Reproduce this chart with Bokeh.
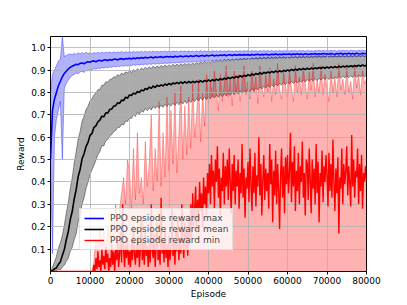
from bokeh.plotting import figure
from bokeh.models import Range1d, FixedTicker, PrintfTickFormatter, Legend
from bokeh.embed import file_html
from bokeh.resources import INLINE

# Episode sampling grids
EP = list(range(0, 80001, 500))        # bands, max and mean lines
MIN_EP = list(range(0, 80001, 250))    # min line (denser)

X_TICKS = [0, 10000, 20000, 30000, 40000, 50000, 60000, 70000, 80000]
Y_TICKS = [0.1, 0.2, 0.3, 0.4, 0.5, 0.6, 0.7, 0.8, 0.9, 1.0]

LABELS = ["PPO epsiode reward max", "PPO epsiode reward mean", "PPO epsiode reward min"]

MAX_LINE = [
    0.50, 0.72, 0.77, 0.80, 0.83, 0.85, 0.87, 0.885, 0.895, 0.905,
    0.912, 0.918, 0.921, 0.926, 0.924, 0.930, 0.932, 0.928, 0.934, 0.937,
    0.935, 0.939, 0.941, 0.937, 0.942, 0.944, 0.940, 0.945, 0.946, 0.942,
    0.947, 0.944, 0.948, 0.949, 0.945, 0.950, 0.951, 0.947, 0.952, 0.950,
    0.953, 0.949, 0.954, 0.951, 0.955, 0.952, 0.956, 0.953, 0.957, 0.954,
    0.956, 0.958, 0.954, 0.959, 0.956, 0.958, 0.960, 0.956, 0.959, 0.961,
    0.958, 0.961, 0.957, 0.962, 0.959, 0.961, 0.963, 0.959, 0.962, 0.963,
    0.960, 0.964, 0.961, 0.963, 0.965, 0.961, 0.964, 0.965, 0.962, 0.966,
    0.963, 0.965, 0.967, 0.963, 0.966, 0.964, 0.967, 0.965, 0.968, 0.964,
    0.967, 0.968, 0.965, 0.969, 0.966, 0.968, 0.969, 0.966, 0.969, 0.967,
    0.969, 0.966, 0.970, 0.967, 0.969, 0.971, 0.967, 0.970, 0.968, 0.971,
    0.969, 0.968, 0.971, 0.969, 0.972, 0.968, 0.971, 0.969, 0.972, 0.970,
    0.971, 0.972, 0.969, 0.972, 0.970, 0.973, 0.970, 0.972, 0.969, 0.973,
    0.971, 0.970, 0.973, 0.971, 0.974, 0.970, 0.973, 0.971, 0.974, 0.972,
    0.973, 0.971, 0.974, 0.972, 0.971, 0.974, 0.972, 0.975, 0.971, 0.974,
    0.972, 0.975, 0.972, 0.974, 0.972, 0.975, 0.973, 0.972, 0.975, 0.973,
    0.974,
]

MAX_LO = [
    0.50, 0.08, 0.60, 0.68, 0.72, 0.76, 0.50, 0.82, 0.84, 0.855,
    0.868, 0.876, 0.880, 0.887, 0.884, 0.891, 0.895, 0.889, 0.899, 0.896,
    0.903, 0.900, 0.907, 0.904, 0.909, 0.906, 0.912, 0.908, 0.913, 0.910,
    0.915, 0.912, 0.917, 0.914, 0.918, 0.915, 0.920, 0.917, 0.921, 0.918,
    0.922, 0.919, 0.924, 0.921, 0.925, 0.922, 0.926, 0.923, 0.927, 0.924,
    0.928, 0.925, 0.929, 0.926, 0.930, 0.927, 0.931, 0.928, 0.932, 0.929,
    0.933, 0.930, 0.934, 0.931, 0.935, 0.932, 0.936, 0.933, 0.937, 0.934,
    0.938, 0.935, 0.939, 0.936, 0.940, 0.937, 0.941, 0.938, 0.942, 0.939,
    0.943, 0.940, 0.944, 0.941, 0.945, 0.942, 0.946, 0.943, 0.947, 0.944,
    0.947, 0.945, 0.948, 0.946, 0.949, 0.946, 0.950, 0.947, 0.951, 0.948,
    0.951, 0.949, 0.952, 0.950, 0.953, 0.950, 0.953, 0.951, 0.954, 0.952,
    0.954, 0.952, 0.955, 0.953, 0.955, 0.953, 0.956, 0.954, 0.956, 0.954,
    0.957, 0.954, 0.957, 0.955, 0.958, 0.955, 0.958, 0.956, 0.958, 0.956,
    0.959, 0.956, 0.959, 0.957, 0.960, 0.957, 0.960, 0.957, 0.960, 0.958,
    0.960, 0.958, 0.961, 0.958, 0.961, 0.959, 0.961, 0.959, 0.962, 0.959,
    0.962, 0.960, 0.962, 0.960, 0.963, 0.960, 0.963, 0.961, 0.963, 0.961,
    0.962,
]

MAX_HI = [
    0.80, 0.88, 0.90, 0.92, 0.94, 0.95, 1.05, 0.96, 0.965, 0.97,
    0.972, 0.968, 0.975, 0.970, 0.977, 0.972, 0.978, 0.973, 0.979, 0.974,
    0.977, 0.972, 0.979, 0.974, 0.980, 0.975, 0.981, 0.976, 0.980, 0.977,
    0.981, 0.976, 0.982, 0.977, 0.981, 0.978, 0.983, 0.977, 0.982, 0.979,
    0.983, 0.978, 0.984, 0.979, 0.983, 0.980, 0.984, 0.979, 0.985, 0.980,
    0.984, 0.980, 0.985, 0.981, 0.984, 0.980, 0.985, 0.981, 0.986, 0.981,
    0.985, 0.981, 0.986, 0.982, 0.985, 0.981, 0.986, 0.982, 0.985, 0.982,
    0.986, 0.982, 0.985, 0.981, 0.986, 0.982, 0.987, 0.982, 0.986, 0.983,
    0.986, 0.982, 0.987, 0.983, 0.986, 0.982, 0.987, 0.983, 0.986, 0.983,
    0.987, 0.983, 0.986, 0.982, 0.987, 0.983, 0.986, 0.983, 0.987, 0.984,
    0.987, 0.983, 0.987, 0.984, 0.986, 0.983, 0.987, 0.984, 0.988, 0.984,
    0.987, 0.984, 0.988, 0.983, 0.987, 0.984, 0.988, 0.984, 0.987, 0.985,
    0.988, 0.984, 0.987, 0.985, 0.988, 0.984, 0.988, 0.985, 0.987, 0.984,
    0.988, 0.985, 0.987, 0.984, 0.988, 0.985, 0.989, 0.985, 0.988, 0.985,
    0.988, 0.985, 0.989, 0.985, 0.988, 0.984, 0.988, 0.985, 0.989, 0.986,
    0.988, 0.985, 0.989, 0.986, 0.988, 0.985, 0.989, 0.986, 0.988, 0.986,
    0.988,
]

MEAN_LINE = [
    0.000, 0.004, 0.012, 0.016, 0.032, 0.043, 0.072, 0.098, 0.142, 0.178,
    0.232, 0.268, 0.324, 0.366, 0.424, 0.456, 0.504, 0.526, 0.559, 0.577,
    0.608, 0.617, 0.644, 0.651, 0.669, 0.676, 0.694, 0.691, 0.709, 0.708,
    0.724, 0.726, 0.739, 0.741, 0.754, 0.751, 0.766, 0.763, 0.779, 0.774,
    0.789, 0.786, 0.797, 0.793, 0.804, 0.800, 0.811, 0.807, 0.818, 0.813,
    0.824, 0.818, 0.829, 0.822, 0.832, 0.827, 0.834, 0.829, 0.838, 0.832,
    0.841, 0.834, 0.843, 0.838, 0.845, 0.839, 0.847, 0.840, 0.848, 0.842,
    0.849, 0.843, 0.850, 0.844, 0.851, 0.845, 0.853, 0.846, 0.854, 0.848,
    0.856, 0.850, 0.857, 0.852, 0.859, 0.854, 0.862, 0.856, 0.864, 0.859,
    0.867, 0.862, 0.869, 0.864, 0.872, 0.866, 0.875, 0.869, 0.877, 0.872,
    0.880, 0.874, 0.883, 0.877, 0.885, 0.880, 0.888, 0.882, 0.890, 0.885,
    0.892, 0.887, 0.894, 0.889, 0.896, 0.891, 0.897, 0.892, 0.899, 0.894,
    0.901, 0.896, 0.903, 0.898, 0.904, 0.899, 0.906, 0.901, 0.907, 0.902,
    0.908, 0.903, 0.909, 0.905, 0.910, 0.906, 0.912, 0.907, 0.913, 0.908,
    0.914, 0.909, 0.915, 0.910, 0.916, 0.911, 0.917, 0.912, 0.918, 0.913,
    0.919, 0.914, 0.920, 0.915, 0.921, 0.916, 0.922, 0.917, 0.923, 0.918,
    0.921,
]

MEAN_LO = [
    0.000, 0.000, 0.000, 0.004, 0.010, 0.008, 0.020, 0.028, 0.046, 0.058,
    0.090, 0.108, 0.142, 0.168, 0.222, 0.246, 0.302, 0.328, 0.372, 0.398,
    0.432, 0.455, 0.474, 0.498, 0.522, 0.536, 0.562, 0.561, 0.584, 0.590,
    0.604, 0.612, 0.624, 0.630, 0.643, 0.644, 0.658, 0.655, 0.673, 0.670,
    0.686, 0.684, 0.701, 0.693, 0.711, 0.702, 0.719, 0.712, 0.729, 0.718,
    0.732, 0.721, 0.737, 0.728, 0.740, 0.730, 0.744, 0.733, 0.748, 0.737,
    0.750, 0.739, 0.752, 0.742, 0.756, 0.745, 0.759, 0.748, 0.763, 0.751,
    0.766, 0.755, 0.770, 0.759, 0.774, 0.762, 0.777, 0.765, 0.780, 0.768,
    0.783, 0.772, 0.786, 0.775, 0.789, 0.778, 0.792, 0.781, 0.795, 0.784,
    0.798, 0.787, 0.801, 0.790, 0.804, 0.793, 0.807, 0.797, 0.810, 0.800,
    0.813, 0.803, 0.817, 0.807, 0.821, 0.811, 0.825, 0.815, 0.829, 0.819,
    0.832, 0.822, 0.835, 0.826, 0.838, 0.829, 0.841, 0.832, 0.844, 0.835,
    0.846, 0.837, 0.849, 0.840, 0.851, 0.842, 0.853, 0.845, 0.856, 0.847,
    0.858, 0.849, 0.860, 0.851, 0.862, 0.853, 0.864, 0.855, 0.866, 0.857,
    0.867, 0.858, 0.869, 0.860, 0.870, 0.862, 0.872, 0.863, 0.873, 0.865,
    0.874, 0.866, 0.875, 0.867, 0.876, 0.868, 0.877, 0.869, 0.878, 0.870,
    0.877,
]

MEAN_HI = [
    0.000, 0.020, 0.042, 0.068, 0.104, 0.128, 0.162, 0.206, 0.262, 0.308,
    0.372, 0.418, 0.484, 0.536, 0.592, 0.626, 0.672, 0.694, 0.724, 0.738,
    0.762, 0.772, 0.789, 0.797, 0.812, 0.814, 0.832, 0.833, 0.848, 0.846,
    0.858, 0.860, 0.870, 0.868, 0.880, 0.874, 0.887, 0.881, 0.892, 0.887,
    0.897, 0.889, 0.902, 0.895, 0.906, 0.898, 0.909, 0.902, 0.913, 0.905,
    0.915, 0.907, 0.918, 0.909, 0.919, 0.911, 0.921, 0.913, 0.923, 0.915,
    0.924, 0.916, 0.926, 0.918, 0.927, 0.919, 0.929, 0.921, 0.930, 0.922,
    0.931, 0.923, 0.933, 0.925, 0.935, 0.927, 0.937, 0.929, 0.939, 0.931,
    0.940, 0.932, 0.942, 0.934, 0.944, 0.936, 0.945, 0.937, 0.947, 0.939,
    0.948, 0.940, 0.949, 0.942, 0.951, 0.943, 0.952, 0.945, 0.954, 0.946,
    0.955, 0.947, 0.956, 0.948, 0.957, 0.949, 0.958, 0.950, 0.958, 0.951,
    0.959, 0.952, 0.960, 0.952, 0.960, 0.953, 0.961, 0.953, 0.961, 0.954,
    0.962, 0.954, 0.962, 0.955, 0.963, 0.955, 0.963, 0.956, 0.963, 0.956,
    0.964, 0.956, 0.964, 0.957, 0.964, 0.957, 0.965, 0.957, 0.965, 0.958,
    0.965, 0.958, 0.965, 0.958, 0.966, 0.958, 0.966, 0.959, 0.966, 0.959,
    0.966, 0.959, 0.967, 0.959, 0.967, 0.960, 0.967, 0.960, 0.967, 0.960,
    0.965,
]

MIN_LINE = [
    0, 0, 0, 0, 0, 0, 0, 0, 0, 0, 0, 0, 0, 0, 0, 0, 0, 0, 0, 0,
    0, 0, 0, 0, 0, 0, 0, 0, 0, 0, 0, 0, 0, 0, 0, 0, 0, 0, 0, 0,
    0, 0, 0, 0, 0.03, 0.0, 0.06, 0.01, 0.09, 0.02, 0.05, 0.0, 0.10, 0.03, 0.07, 0.01, 0.11, 0.04, 0.08, 0.0,
    0.06, 0.02, 0.12, 0.03, 0.09, 0.0, 0.10, 0.05, 0.13, 0.02, 0.08, 0.18, 0.04, 0.30, 0.10, 0.02, 0.12, 0.06, 0.15, 0.03,
    0.09, 0.02, 0.14, 0.05, 0.20, 0.08, 0.03, 0.12, 0.06, 0.16, 0.02, 0.10, 0.25, 0.05, 0.13, 0.03, 0.18, 0.07, 0.11, 0.02,
    0.14, 0.04, 0.30, 0.09, 0.06, 0.17, 0.02, 0.12, 0.22, 0.05, 0.10, 0.03, 0.33, 0.08, 0.15, 0.04, 0.20, 0.06, 0.12, 0.02,
    0.16, 0.05, 0.10, 0.28, 0.07, 0.13, 0.03, 0.19, 0.09, 0.24, 0.05, 0.15, 0.08, 0.30, 0.12, 0.06, 0.22, 0.10, 0.18, 0.07,
    0.25, 0.12, 0.30, 0.15, 0.35, 0.20, 0.28, 0.38, 0.18, 0.32, 0.22, 0.40, 0.27, 0.35, 0.20, 0.42, 0.30, 0.38, 0.25, 0.44,
    0.35, 0.48, 0.30, 0.52, 0.38, 0.45, 0.28, 0.50, 0.40, 0.56, 0.33, 0.46, 0.25, 0.42, 0.36, 0.53, 0.30, 0.47, 0.38, 0.50,
    0.32, 0.55, 0.40, 0.26, 0.48, 0.36, 0.52, 0.30, 0.45, 0.38, 0.50, 0.28, 0.44, 0.35, 0.57, 0.33, 0.46, 0.24, 0.42, 0.37,
    0.49, 0.31, 0.55, 0.40, 0.27, 0.47, 0.35, 0.53, 0.29, 0.43, 0.38, 0.60, 0.34, 0.48, 0.25, 0.41, 0.52, 0.32, 0.46, 0.36,
    0.44, 0.28, 0.57, 0.39, 0.50, 0.22, 0.45, 0.34, 0.54, 0.30, 0.48, 0.37, 0.19, 0.43, 0.55, 0.33, 0.47, 0.26, 0.51, 0.39,
    0.52, 0.35, 0.44, 0.62, 0.31, 0.49, 0.38, 0.56, 0.27, 0.45, 0.36, 0.53, 0.30, 0.47, 0.40, 0.58, 0.33, 0.44, 0.25, 0.50,
    0.48, 0.32, 0.55, 0.41, 0.26, 0.50, 0.37, 0.46, 0.30, 0.57, 0.35, 0.49, 0.22, 0.44, 0.38, 0.54, 0.31, 0.47, 0.40, 0.52,
    0.43, 0.29, 0.53, 0.36, 0.48, 0.33, 0.59, 0.40, 0.27, 0.46, 0.35, 0.51, 0.17, 0.42, 0.37, 0.55, 0.30, 0.48, 0.39, 0.45,
    0.56, 0.34, 0.47, 0.40, 0.29, 0.61, 0.38, 0.50, 0.33, 0.45, 0.42, 0.55, 0.30, 0.48, 0.36, 0.52, 0.28, 0.44, 0.40, 0.47,
    0.41,
]

MIN_HI = [
    0.00, 0.00, 0.00, 0.00, 0.00, 0.00, 0.00, 0.00, 0.00, 0.00,
    0.00, 0.00, 0.00, 0.00, 0.00, 0.00, 0.00, 0.00, 0.00, 0.00,
    0.00, 0.00, 0.05, 0.15, 0.10, 0.20, 0.12, 0.18, 0.08, 0.20,
    0.15, 0.22, 0.18, 0.30, 0.20, 0.28, 0.35, 0.42, 0.30, 0.50,
    0.45, 0.28, 0.55, 0.32, 0.62, 0.35, 0.42, 0.30, 0.58, 0.38,
    0.48, 0.70, 0.36, 0.55, 0.40, 0.76, 0.38, 0.62, 0.42, 0.78,
    0.45, 0.72, 0.48, 0.80, 0.44, 0.62, 0.83, 0.50, 0.74, 0.52,
    0.78, 0.55, 0.84, 0.60, 0.70, 0.86, 0.58, 0.80, 0.65, 0.88,
    0.75, 0.85, 0.78, 0.90, 0.80, 0.72, 0.88, 0.76, 0.84, 0.92,
    0.78, 0.86, 0.74, 0.90, 0.80, 0.88, 0.76, 0.84, 0.92, 0.79,
    0.85, 0.77, 0.90, 0.80, 0.87, 0.75, 0.92, 0.82, 0.78, 0.88,
    0.80, 0.91, 0.76, 0.86, 0.79, 0.93, 0.81, 0.77, 0.89, 0.83,
    0.78, 0.90, 0.82, 0.76, 0.92, 0.80, 0.87, 0.79, 0.91, 0.84,
    0.77, 0.89, 0.81, 0.93, 0.78, 0.86, 0.80, 0.92, 0.79, 0.88,
    0.82, 0.76, 0.90, 0.80, 0.87, 0.78, 0.93, 0.81, 0.86, 0.79,
    0.91, 0.80, 0.85, 0.77, 0.92, 0.82, 0.88, 0.79, 0.90, 0.84,
    0.86,
]

FONT = "DejaVu Sans"

p = figure(width=400, height=302,
           x_range=Range1d(0, 80000), y_range=Range1d(0, 1.05),
           output_backend="svg", toolbar_location=None,
           min_border_left=50, min_border_right=34,
           min_border_top=36, min_border_bottom=31)

# bands (drawn beneath the grid, like matplotlib patches)
p.varea(x=EP, y1=MAX_LO, y2=MAX_HI, fill_color="blue", fill_alpha=0.3, level="image")
p.line(EP, MAX_LO, line_color="blue", line_alpha=0.45, line_width=0.8, level="image")
p.line(EP, MAX_HI, line_color="blue", line_alpha=0.45, line_width=0.8, level="image")

p.varea(x=EP, y1=MEAN_LO, y2=MEAN_HI, fill_color="black", fill_alpha=0.33, level="image")
p.line(EP, MEAN_LO, line_color="black", line_alpha=0.5, line_width=0.8, level="image")
p.line(EP, MEAN_HI, line_color="black", line_alpha=0.5, line_width=0.8, level="image")

p.varea(x=EP, y1=0, y2=MIN_HI, fill_color="red", fill_alpha=0.3, level="image")
p.line(EP, MIN_HI, line_color="red", line_alpha=0.4, line_width=0.8, level="image")

r_max = p.line(EP, MAX_LINE, line_color="blue", line_width=1.6)
r_min = p.line(MIN_EP, MIN_LINE, line_color="red", line_width=1.4)
r_mean = p.line(EP, MEAN_LINE, line_color="black", line_width=1.6)

legend = Legend(items=[(LABELS[0], [r_max]), (LABELS[1], [r_mean]), (LABELS[2], [r_min])],
                location=(29, 21))
legend.label_text_font = FONT
legend.label_text_font_size = "9px"
legend.glyph_width = 20
legend.glyph_height = 10
legend.label_height = 10
legend.label_standoff = 6
legend.spacing = 1
legend.padding = 4
legend.margin = 0
legend.background_fill_alpha = 0.8
legend.border_line_color = "#cccccc"
legend.border_line_width = 1
p.add_layout(legend)

p.xaxis.ticker = FixedTicker(ticks=X_TICKS)
p.yaxis.ticker = FixedTicker(ticks=Y_TICKS)
p.xaxis.formatter = PrintfTickFormatter(format="%d")
p.yaxis.formatter = PrintfTickFormatter(format="%.1f")
p.xaxis.axis_label = "Episode"
p.yaxis.axis_label = "Reward"

for ax in (p.xaxis[0], p.yaxis[0]):
    ax.axis_line_color = None
    ax.major_tick_line_color = "black"
    ax.major_tick_out = 3
    ax.major_tick_in = 0
    ax.minor_tick_line_color = None
    ax.major_label_text_font = FONT
    ax.major_label_text_font_size = "9px"
    ax.major_label_text_color = "black"
    ax.major_label_standoff = 2
    ax.axis_label_text_font = FONT
    ax.axis_label_text_font_size = "9px"
    ax.axis_label_text_font_style = "normal"
    ax.axis_label_text_color = "black"
    ax.axis_label_standoff = 2

for g in (p.xgrid[0], p.ygrid[0]):
    g.grid_line_color = "#b0b0b0"
    g.grid_line_width = 0.8

p.outline_line_color = "black"
p.outline_line_width = 1
p.outline_line_alpha = 1
p.background_fill_color = "white"
p.border_fill_color = "white"

open("out.html", "w").write(file_html(p, INLINE))
